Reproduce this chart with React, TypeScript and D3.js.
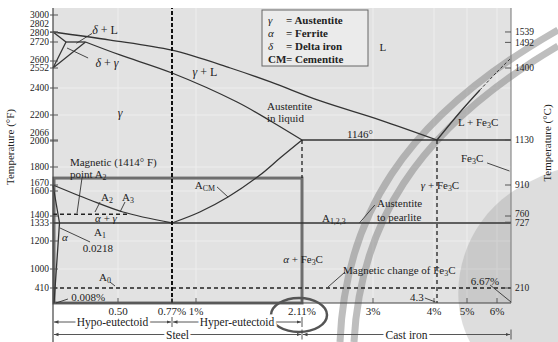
import * as d3 from "d3";

const W = 558;
const H = 342;

// temperature ticks, °F on the left axis and °C on the right
const tempTicksF = [3000, 2802, 2800, 2720, 2600, 2552, 2400, 2200, 2066, 2000, 1800, 1670, 1600, 1400, 1333, 1200, 1000, 410];
const tempTicksC = [1539, 1492, 1400, 1130, 910, 760, 727, 210];
// carbon content ticks
const carbonTicks = [0.5, 0.77, 1, 2.11, 3, 4, 5, 6];
const carbonLabels = ["0.50", "0.77%", "1%", "2.11%", "3%", "4%", "5%", "6%"];

// phase boundaries as [carbon %, °F]
const liquidus: [number, number][] = [[0, 2802], [0.44, 2736], [0.77, 2668], [1.36, 2552], [1.78, 2446], [2.34, 2304], [3.12, 2173], [4.3, 2066]];
const liquidusFe3C: [number, number][] = [[4.3, 2066], [4.84, 2222], [5.43, 2385]];
const liquidusFe3CDashed: [number, number][] = [[5.43, 2385], [6, 2522], [6.67, 2619]];
const solidus: [number, number][] = [[0.25, 2720], [0.51, 2638], [0.77, 2514], [1.43, 2296], [1.78, 2168], [2.11, 2066]];
const deltaSolidus: [number, number][] = [[0, 2802], [0.1, 2720]];
const peritectic: [number, number][] = [[0.1, 2720], [0.25, 2720]];
const deltaGamma: [number, number][] = [[0, 2552], [0.1, 2720]];
const gammaDelta: [number, number][] = [[0, 2552], [0.25, 2720]];
const a3Line: [number, number][] = [[0, 1670], [0.285, 1528], [0.525, 1432], [0.77, 1333]];
const acmLine: [number, number][] = [[0.77, 1333], [1.04, 1432], [1.335, 1552], [1.67, 1742], [1.88, 1869], [2.11, 2066]];
const ferriteLine: [number, number][] = [[0, 1670], [0.05, 1333], [0.008, 0]];
const magneticA2: [number, number][] = [[0, 1414], [0.55, 1414]];

const eutecticF = 2066;
const eutectoidF = 1333;
const a0F = 410;
const steelBoxTopF = 1720;
const eutecticC = 4.3;
const eutectoidC = 0.77;
const maxSolubilityC = 2.11;
const cementiteC = 6.67;

const legendRows = [
  ["γ", "= Austentite"],
  ["α", "= Ferrite"],
  ["δ", "= Delta iron"],
  ["CM", "= Cementite"],
];

const bottomRows: [number, number, string][][] = [
  [[0, 0.77, "Hypo-eutectoid"], [0.77, 2.11, "Hyper-eutectoid"]],
  [[0, 2.11, "Steel"], [2.11, 6.67, "Cast iron"]],
];

// the diagram is schematic, so both axes are piecewise linear
const x = d3
  .scaleLinear()
  .domain([0, 0.5, 0.77, 1, 2.11, 3, 4, 4.3, 5, 6, 6.67])
  .range([53, 118, 172, 196, 302, 373, 434, 437, 467, 497, 511]);
const y = d3
  .scaleLinear()
  .domain([0, 410, 1000, 1200, 1333, 1400, 1600, 1670, 1800, 2000, 2066, 2200, 2400, 2552, 2600, 2720, 2802, 3000, 3080])
  .range([303, 288, 269, 241, 223, 216, 191, 185, 167, 141, 140, 115, 88, 68, 61, 42, 32, 15, 8]);
const cToF = (c: number) => (c * 9) / 5 + 32;

const line = d3.line<[number, number]>().x((d) => x(d[0])).y((d) => y(d[1]));
const curve = d3
  .line<[number, number]>()
  .x((d) => x(d[0]))
  .y((d) => y(d[1]))
  .curve(d3.curveCatmullRom);

// push crowded labels upward so they don't sit on each other
function spread(ps: number[], gap: number) {
  const order = ps.map((_, i) => i).sort((a, b) => ps[b] - ps[a]);
  const out = ps.slice();
  let last = Infinity;
  for (const i of order) {
    out[i] = Math.min(ps[i], last - gap);
    last = out[i];
  }
  return out;
}

const Fe3C = () => (
  <>
    <tspan>Fe</tspan>
    <tspan dy={2.5} fontSize="0.72em">3</tspan>
    <tspan dy={-2.5}>C</tspan>
  </>
);
const Sub = ({ b, s }: { b: string; s: string }) => (
  <>
    <tspan>{b}</tspan>
    <tspan dy={2.5} fontSize="0.72em">{s}</tspan>
  </>
);
const G = ({ c }: { c: string }) => <tspan fontStyle="italic">{c}</tspan>;

const ink = "#333";

export default function App() {
  const leftY = spread(tempTicksF.map((t) => y(t)), 8.5);
  const rightY = spread(tempTicksC.map((t) => y(cToF(t))), 8.5);
  const x0 = x(0);
  const x1 = x(cementiteC);
  const Leader = ({ a, b }: { a: [number, number]; b: [number, number] }) => (
    <line x1={x(a[0])} y1={y(a[1])} x2={x(b[0])} y2={y(b[1])} stroke={ink} strokeWidth={0.9} />
  );

  return (
    <svg
      width={W}
      height={H}
      style={{ position: "absolute", left: 0, top: 0, background: "#fff" }}
      fontFamily="'Liberation Serif', 'Times New Roman', serif"
    >
      <defs>
        <marker id="arr" viewBox="0 0 10 10" refX={10} refY={5} markerWidth={5} markerHeight={5} orient="auto-start-reverse">
          <path d="M0,1 L10,5 L0,9 z" fill="#444" />
        </marker>
      </defs>

      {/* plot background */}
      <rect x={x0} y={y(3080)} width={x1 - x0} height={y(0) - y(3080)} fill="#e2e2e2" />
      <g stroke="#f2f2f2" strokeWidth={1} opacity={0.8}>
        {carbonTicks.filter((c) => c !== 0.77 && c !== 2.11).map((c) => (
          <line key={c} x1={x(c)} x2={x(c)} y1={y(3080)} y2={y(0)} />
        ))}
        {[2400, 2200, 1800, 1600, 1200, 1000].map((t) => (
          <line key={t} x1={x0} x2={x1} y1={y(t)} y2={y(t)} />
        ))}
      </g>

      {/* faint watermark shapes from the scan */}
      <g opacity={0.55} pointerEvents="none" fill="none" stroke="#8a8a8a" strokeWidth={7}>
        <path d="M340,342 C345,220 400,120 558,30" />
        <path d="M354,342 C360,228 412,132 558,46" />
        <path d="M470,342 C445,295 460,225 515,190 C535,178 550,172 558,170 L558,342 Z" fill="#9a9a9a" stroke="none" opacity={0.6} />
      </g>

      {/* steel region box */}
      <rect
        x={x0 + 1}
        y={y(steelBoxTopF)}
        width={x(maxSolubilityC) - x0 - 1}
        height={y(0) - y(steelBoxTopF)}
        fill="none"
        stroke="#6e6e6e"
        strokeWidth={3}
      />

      {/* phase boundaries */}
      <g fill="none" stroke={ink} strokeWidth={1.3}>
        <path d={curve(liquidus)!} />
        <path d={curve(liquidusFe3C)!} />
        <path d={curve(liquidusFe3CDashed)!} strokeDasharray="3,2" strokeWidth={1} />
        <path d={curve(solidus)!} />
        <path d={line(deltaSolidus)!} />
        <path d={line(peritectic)!} />
        <path d={line(deltaGamma)!} />
        <path d={line(gammaDelta)!} />
        <path d={curve(a3Line)!} />
        <path d={curve(acmLine)!} />
        <path d={line(ferriteLine)!} />
        <path d={line([[maxSolubilityC, eutecticF], [cementiteC, eutecticF]])!} />
        <path d={line([[0, eutectoidF], [cementiteC, eutectoidF]])!} strokeWidth={1.6} />
      </g>
      <g fill="none" stroke="#222" strokeDasharray="4,3" strokeWidth={1.3}>
        <path d={line(magneticA2)!} />
        <path d={line([[0, a0F], [cementiteC, a0F]])!} />
        <path d={line([[maxSolubilityC, eutecticF], [maxSolubilityC, steelBoxTopF]])!} />
        <path d={line([[eutecticC, eutecticF], [eutecticC, 0]])!} />
        <path d={line([[eutectoidC, 0], [eutectoidC, 3080]])!} strokeWidth={2} strokeDasharray="4,2" stroke="#111" />
      </g>

      {/* axes */}
      <line x1={x0} x2={x0} y1={y(3080)} y2={H} stroke="#444" strokeWidth={1.2} />
      <line x1={x1} x2={x1} y1={y(3080)} y2={y(0)} stroke="#777" strokeWidth={1} />
      <line x1={x0} x2={x1} y1={y(0)} y2={y(0)} stroke="#444" strokeWidth={1.2} />
      <g fontSize={9.5} fill="#222">
        {tempTicksF.map((t, i) => (
          <g key={t}>
            <line x1={x0 - 3} x2={x0 + 5} y1={y(t)} y2={y(t)} stroke="#555" />
            <text x={49} y={leftY[i]} dy="0.35em" textAnchor="end">{t}</text>
          </g>
        ))}
        {tempTicksC.map((t, i) => (
          <g key={t}>
            <line x1={x1 - 6} x2={x1} y1={y(cToF(t))} y2={y(cToF(t))} stroke="#555" />
            <text x={x1 + 4} y={rightY[i]} dy="0.35em">{t}</text>
          </g>
        ))}
        {carbonTicks.map((c, i) => (
          <g key={c}>
            <line x1={x(c)} x2={x(c)} y1={y(0)} y2={y(0) - 5} stroke="#555" />
            <text x={x(c)} y={311} dy="0.35em" textAnchor="middle" fontSize={11}>{carbonLabels[i]}</text>
          </g>
        ))}
      </g>
      <text transform="translate(14,147) rotate(-90)" textAnchor="middle" fontSize={11} fill="#222">Temperature (°F)</text>
      <text transform="translate(551,143) rotate(-90)" textAnchor="middle" fontSize={11} fill="#222">Temperature (°C)</text>

      {/* circled 2.11% */}
      <ellipse cx={x(maxSolubilityC) - 3} cy={315} rx={28} ry={17} fill="none" stroke="#555" strokeWidth={2.5} />

      {/* steel / cast iron ranges */}
      {bottomRows.map((row, r) => {
        const ry = 322 + r * 12.5;
        return (
          <g key={r}>
            {row.map(([a, b, label]) => (
              <g key={label}>
                <line x1={x(a) + 1} x2={x(b) - 1} y1={ry} y2={ry} stroke="#444" strokeWidth={0.9} markerStart="url(#arr)" markerEnd="url(#arr)" />
                <line x1={x(b)} x2={x(b)} y1={ry - 5} y2={ry + 5} stroke="#444" strokeWidth={0.9} />
                <text
                  x={(x(a) + x(b)) / 2}
                  y={ry}
                  dy="0.35em"
                  textAnchor="middle"
                  fontSize={11.5}
                  fill="#222"
                  stroke="#fff"
                  strokeWidth={5}
                  paintOrder="stroke"
                >
                  {label}
                </text>
              </g>
            ))}
          </g>
        );
      })}

      {/* region labels */}
      <g fontSize={11} fill="#222">
        <text x={x(0.4)} y={y(2825)} dy="0.35em" textAnchor="middle" fontSize={12}><G c="δ" /> + L</text>
        <text x={x(0.415)} y={y(2586)} dy="0.35em" textAnchor="middle" fontSize={12}><G c="δ" /> + <G c="γ" /></text>
        <text x={x(1.094)} y={y(2522)} dy="0.35em" textAnchor="middle" fontSize={12}><G c="γ" /> + L</text>
        <text x={x(0.51)} y={y(2215)} dy="0.35em" textAnchor="middle" fontSize={12}><G c="γ" /></text>
        <text x={x(3.16)} y={y(2688)} dy="0.35em" textAnchor="middle">L</text>
        <text x={x(1.743)} y={y(2267)} dy="0.35em">Austentite</text>
        <text x={x(1.743)} y={y(2184)} dy="0.35em">in liquid</text>
        <text x={x(2.837)} y={y(2098)} dy="0.35em" textAnchor="middle">1146°</text>
        <text x={x(5.37)} y={y(2162)} dy="0.35em" textAnchor="middle">L + <Fe3C /></text>
        <text x={x(5.17)} y={y(1869)} dy="0.35em" textAnchor="middle"><Fe3C /></text>
        <text x={x(4.37)} y={y(1670)} dy="0.35em" textAnchor="middle"><G c="γ" /> + <Fe3C /></text>
        <text x={x(3.066)} y={y(1504)} dy="0.35em">Austentite</text>
        <text x={x(3.066)} y={y(1390)} dy="0.35em">to pearlite</text>
        <text x={x(2.36)} y={y(1381)} dy="0.35em"><Sub b="A" s="1,2,3" /></text>
        <text x={x(2.123)} y={y(1071)} dy="0.35em" textAnchor="middle"><G c="α" /> + <Fe3C /></text>
        <text x={x(2.625)} y={y(969)} dy="0.35em">Magnetic change of <Fe3C /></text>
        <text x={x(5.6)} y={y(627)} dy="0.35em" textAnchor="middle">6.67%</text>
        <text x={x(3.72)} y={y(164)} dy="0.35em" textAnchor="middle">4.3</text>
        <text x={x(0.13)} y={y(1838)} dy="0.35em">Magnetic (1414° F)</text>
        <text x={x(0.13)} y={y(1749)} dy="0.35em">point <Sub b="A" s="2" /></text>
        <text x={x(0.415)} y={y(1552)} dy="0.35em" textAnchor="middle"><Sub b="A" s="2" /></text>
        <text x={x(0.55)} y={y(1552)} dy="0.35em" textAnchor="middle"><Sub b="A" s="3" /></text>
        <text x={x(0.408)} y={y(1381)} dy="0.35em" textAnchor="middle"><G c="α" /> + <G c="γ" /></text>
        <text x={x(0.362)} y={y(1266)} dy="0.35em" textAnchor="middle"><Sub b="A" s="1" /></text>
        <text x={x(0.092)} y={y(1230)} dy="0.35em" textAnchor="middle"><G c="α" /></text>
        <text x={x(0.346)} y={y(1150)} dy="0.35em" textAnchor="middle">0.0218</text>
        <text x={x(0.4)} y={y(751)} dy="0.35em" textAnchor="middle"><Sub b="A" s="0" /></text>
        <text x={x(0.27)} y={y(164)} dy="0.35em" textAnchor="middle">0.008%</text>
        <text x={x(1.094)} y={y(1670)} dy="0.35em" textAnchor="middle"><Sub b="A" s="CM" /></text>
      </g>
      <g>
        <Leader a={[0.3, 2790]} b={[0.18, 2712]} />
        <Leader a={[0.27, 2619]} b={[0.108, 2682]} />
        <Leader a={[5.67, 1831]} b={[6.6, 1771]} />
        <Leader a={[2.83, 1333]} b={[3.03, 1488]} />
        <Leader a={[2.65, 907]} b={[2.436, 441]} />
        <Leader a={[5.77, 503]} b={[6.67, 27]} />
        <Leader a={[3.85, 137]} b={[4.15, 27]} />
        <Leader a={[0.223, 1720]} b={[0.185, 1424]} />
        <Leader a={[0.362, 1512]} b={[0.323, 1432]} />
        <Leader a={[0.535, 1512]} b={[0.51, 1432]} />
        <Leader a={[0.285, 1193]} b={[0.054, 1296]} />
        <Leader a={[0.438, 596]} b={[0.477, 472]} />
        <Leader a={[0.115, 109]} b={[0.023, 0]} />
        <Leader a={[1.22, 1648]} b={[1.335, 1552]} />
      </g>

      {/* legend */}
      <g>
        <rect x={262} y={10} width={106} height={56} fill="#ebebeb" stroke="#666" />
        {legendRows.map(([sym, desc], i) => (
          <g key={sym} fontSize={11} fill="#222">
            <text x={268} y={20 + i * 13} dy="0.35em" fontStyle={sym === "CM" ? "normal" : "italic"} fontWeight={sym === "CM" ? "bold" : "normal"}>{sym}</text>
            <text x={286} y={20 + i * 13} dy="0.35em" fontWeight="bold">{desc}</text>
          </g>
        ))}
      </g>
    </svg>
  );
}
